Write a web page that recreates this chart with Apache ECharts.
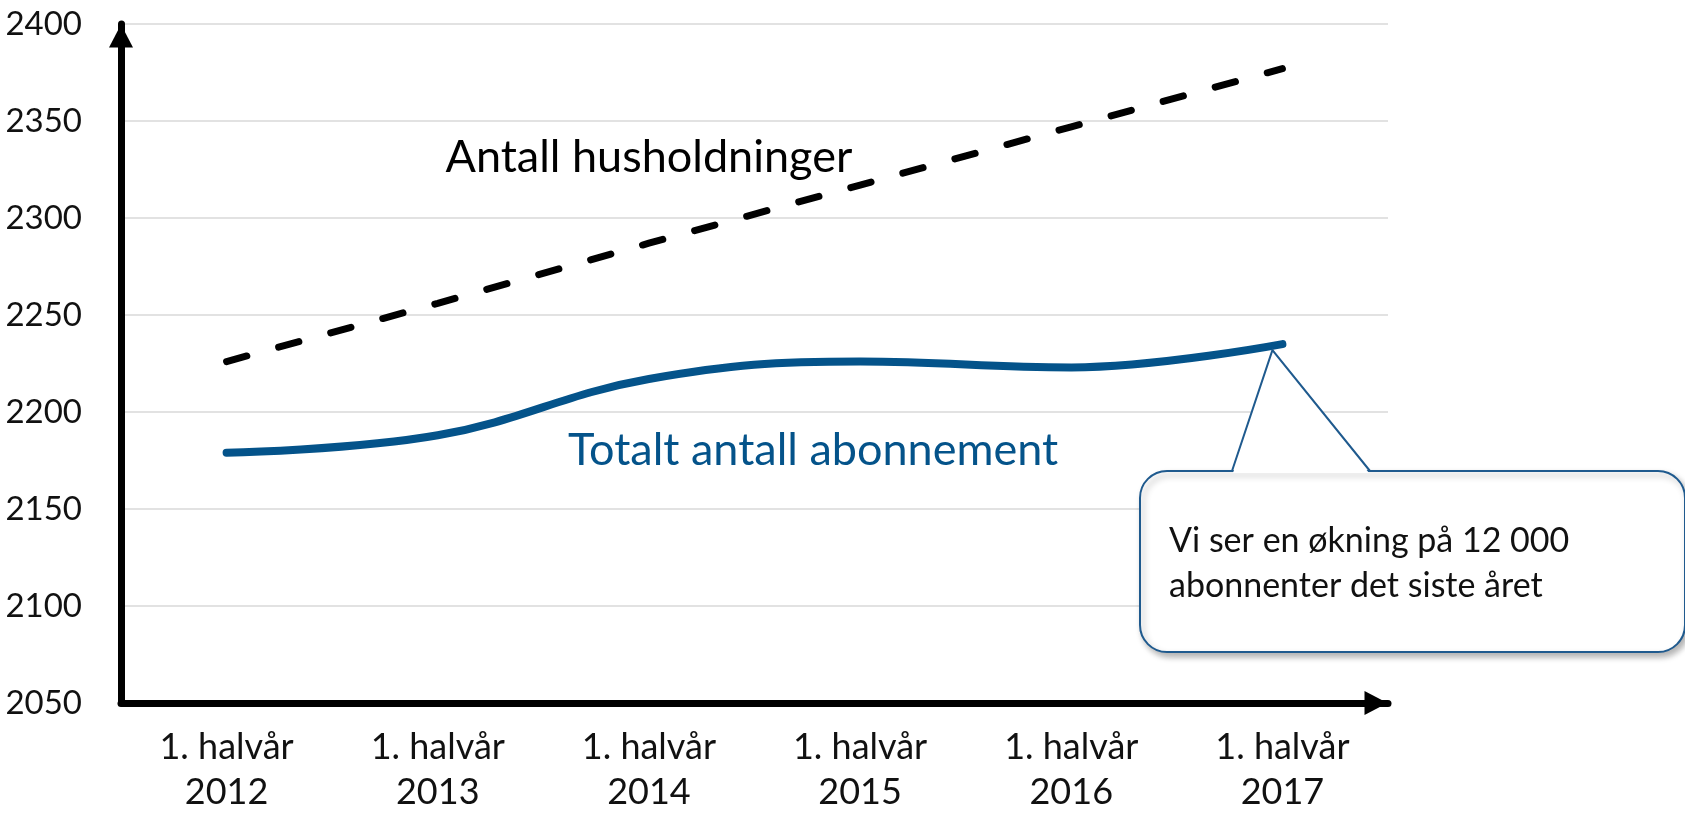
<!DOCTYPE html>
<html>
<head>
<meta charset="utf-8">
<script src="https://cdn.jsdelivr.net/npm/echarts@6/dist/echarts.min.js"></script>
<style>
  html, body { margin: 0; padding: 0; background: #fff; }
  #chart { width: 1685px; height: 815px; }
</style>
</head>
<body>
<div id="chart"></div>
<script>
const categories = ["1. halvår\n2012", "1. halvår\n2013", "1. halvår\n2014", "1. halvår\n2015", "1. halvår\n2016", "1. halvår\n2017"];
const husholdninger = [2226, 2256, 2287, 2317, 2347, 2377];
const abonnement = [2179, 2188, 2217, 2226, 2223, 2235];
const yTicks = { min: 2050, max: 2400, interval: 50 };
const calloutLines = ["Vi ser en økning på 12 000", "abonnenter det siste året"];

const blue = "#04538a";
const font = "Lato, 'Open Sans', sans-serif";

const chart = echarts.init(document.getElementById("chart"));

const axisLine = (offset) => ({
  show: true,
  symbol: ["none", "triangle"],
  symbolSize: [24, 23],
  symbolOffset: [0, offset],
  lineStyle: { color: "#000", width: 7 },
});

chart.setOption({
  animation: false,
  grid: { left: 121, right: 297, top: 24, bottom: 108 },
  xAxis: {
    type: "category",
    data: categories,
    boundaryGap: true,
    axisLine: axisLine(-12),
    axisTick: { show: false },
    axisLabel: {
      margin: 22,
      color: "#111",
      fontFamily: font,
      fontSize: 36,
      lineHeight: 45,
    },
    splitLine: { show: false },
  },
  yAxis: {
    type: "value",
    min: yTicks.min,
    max: yTicks.max,
    interval: yTicks.interval,
    axisLine: axisLine(-12),
    axisTick: { show: false },
    axisLabel: {
      margin: 39,
      color: "#111",
      fontFamily: font,
      fontSize: 33,
      formatter: (value) => String(value),
    },
    splitLine: { lineStyle: { color: "#d9d9d9", width: 1.5 } },
  },
  series: [
    {
      name: "Antall husholdninger",
      type: "line",
      data: husholdninger,
      showSymbol: false,
      lineStyle: { color: "#000", width: 7, type: [21, 33], cap: "round" },
      z: 3,
      markPoint: {
        symbol: "circle",
        symbolSize: 0,
        silent: true,
        data: [{ coord: [categories[2], 2331] }],
        label: {
          show: true,
          position: "inside",
          formatter: "Antall husholdninger",
          color: "#000",
          fontFamily: font,
          fontSize: 45,
        },
      },
    },
    {
      name: "Totalt antall abonnement",
      type: "line",
      data: abonnement,
      smooth: 0.4,
      showSymbol: false,
      lineStyle: { color: blue, width: 8, cap: "round" },
      z: 3,
      markPoint: {
        symbol: "circle",
        symbolSize: 0,
        silent: true,
        data: [{ coord: [categories[3], 2180] }],
        label: {
          show: true,
          position: "inside",
          offset: [-47, 0],
          formatter: "Totalt antall abonnement",
          color: blue,
          fontFamily: font,
          fontSize: 45,
        },
      },
    },
  ],
});

// callout pointing at the last subscription value
const last = abonnement.length - 1;
const tip = chart.convertToPixel({ seriesIndex: 1 }, [last, abonnement[last]]);
const box = { x: 1140, y: 471, w: 545, h: 181, r: 27 };
const baseL = [1232, box.y];
const baseR = [1370, box.y];
const pointer = [baseL, [tip[0] - 10, tip[1] + 6], baseR];
const border = "#1f5a8e";

chart.setOption({
  graphic: [
    {
      type: "rect",
      z: 100,
      shape: { x: box.x, y: box.y, width: box.w, height: box.h, r: box.r },
      style: {
        fill: "#fff",
        stroke: border,
        lineWidth: 2,
        shadowBlur: 6,
        shadowOffsetX: 3,
        shadowOffsetY: 4,
        shadowColor: "rgba(0,0,0,0.3)",
      },
    },
    {
      type: "polygon",
      z: 101,
      shape: { points: [[baseL[0] + 1, box.y + 2], pointer[1], [baseR[0] - 1, box.y + 2]] },
      style: { fill: "#fff" },
    },
    {
      type: "polyline",
      z: 102,
      shape: { points: pointer },
      style: { stroke: border, lineWidth: 2, fill: null },
    },
    {
      type: "text",
      z: 103,
      x: 1169,
      y: 519,
      style: {
        text: calloutLines.join("\n"),
        fill: "#111",
        font: `34px ${font}`,
        lineHeight: 45,
        verticalAlign: "top",
      },
    },
  ],
});
</script>
</body>
</html>
